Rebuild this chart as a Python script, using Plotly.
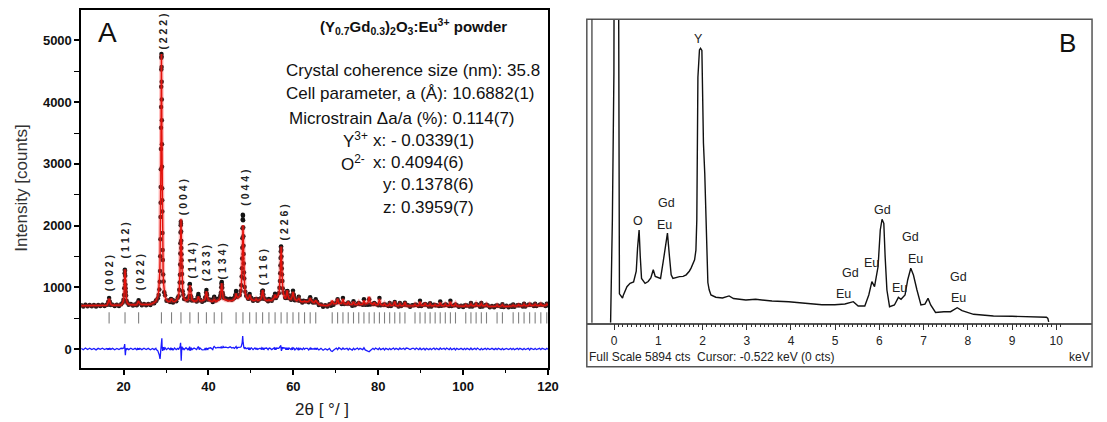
import plotly.graph_objects as go

W, H = 1107, 422
FONT = "Liberation Sans, Arial, sans-serif"

# ---------------- Panel A : XRD Rietveld data ----------------
two_theta = [
    10.0, 10.5, 11.0, 11.5, 12.0, 12.5, 13.0, 13.5, 14.0, 14.5, 15.0, 15.5, 16.0,
    16.18, 16.38, 16.48, 16.58, 16.68, 16.78, 16.98,
    17.4, 17.9, 18.4, 18.9, 19.4,
    19.78, 19.98, 20.09, 20.16, 20.21, 20.25, 20.29, 20.33, 20.37, 20.41, 20.45, 20.50, 20.57, 20.68, 20.88,
    21.2, 21.7, 22.2, 22.7, 23.1,
    23.23, 23.43, 23.53, 23.63, 23.83,
    24.3, 24.8, 25.3, 25.8, 26.3, 26.8, 27.2, 27.6,
    27.71, 28.06, 28.26, 28.41, 28.51, 28.58, 28.63, 28.67, 28.71, 28.73, 28.75, 28.77, 28.79, 28.81, 28.83, 28.85, 28.87, 28.89, 28.91,
    28.93, 28.95, 28.97, 28.99, 29.01, 29.03, 29.05, 29.07, 29.09, 29.11, 29.15, 29.19, 29.24, 29.31, 29.41, 29.56, 29.76, 30.11,
    30.5, 30.94, 31.14, 31.29, 31.44, 31.64, 32.0, 32.4,
    32.76, 32.96, 33.11, 33.21, 33.27, 33.32, 33.36, 33.39, 33.42, 33.45, 33.48, 33.51,
    33.54, 33.57, 33.60, 33.63, 33.66, 33.70, 33.75, 33.81, 33.91, 34.06, 34.26,
    34.7, 35.11, 35.29, 35.41, 35.49, 35.55, 35.61, 35.67, 35.73, 35.81, 35.93, 36.11,
    36.6, 37.21, 37.41, 37.51, 37.61, 37.71, 37.81, 38.01, 38.5,
    39.06, 39.23, 39.35, 39.43, 39.51, 39.59, 39.67, 39.79, 39.96,
    40.5, 41.0, 41.2, 41.35, 41.5, 41.7, 42.2,
    42.62, 42.8, 42.92, 43.0, 43.06, 43.12, 43.18, 43.24, 43.32, 43.44, 43.62,
    44.1, 44.6, 45.1, 45.5, 45.8,
    46.1, 46.3, 46.4, 46.5, 46.6, 46.7, 46.9,
    47.37, 47.57, 47.72, 47.82, 47.88, 47.93, 47.97, 48.00, 48.03, 48.06, 48.09, 48.12,
    48.15, 48.18, 48.21, 48.24, 48.27, 48.31, 48.36, 48.42, 48.52, 48.67, 48.87,
    49.3, 49.5, 49.6, 49.7, 49.8, 49.9, 50.1,
    50.5, 50.89, 51.09, 51.24, 51.39, 51.59, 52.0,
    52.3, 52.47, 52.59, 52.67, 52.75, 52.83, 52.91, 53.03, 53.2,
    53.7, 54.04, 54.24, 54.44, 54.9,
    55.29, 55.49, 55.59, 55.69, 55.79, 55.89, 56.09,
    56.56, 56.73, 56.83, 56.90, 56.95, 56.99, 57.03, 57.07, 57.11,
    57.15, 57.19, 57.23, 57.27, 57.32, 57.39, 57.49, 57.66,
    58.07, 58.24, 58.36, 58.44, 58.52, 58.60, 58.68, 58.80, 58.97,
    59.46, 59.63, 59.75, 59.83, 59.91, 59.99, 60.07, 60.19, 60.36,
    60.8, 61.12, 61.27, 61.42, 61.7,
    62.1, 62.38, 62.63, 62.88,
    63.3, 63.61, 63.81, 63.96, 64.11, 64.31, 64.62,
    64.92, 65.12, 65.27, 65.42, 65.62, 66.0, 66.5, 67.0, 67.5, 68.0, 68.5,
    68.85, 69.15, 69.45, 70.12, 70.42, 70.72, 71.38, 71.68, 71.98,
    72.63, 72.93, 73.23, 73.87, 74.17, 74.47, 75.10, 75.40, 75.70,
    76.33, 76.63, 76.93, 77.55, 77.85, 78.15, 78.76, 79.06, 79.36,
    79.98, 80.28, 80.58, 81.18, 81.48, 81.78, 82.39, 82.69, 82.99,
    83.59, 83.89, 84.19, 84.79, 85.09, 85.39, 85.99, 86.29, 86.59,
    87.0, 87.5, 88.0,
    88.36, 88.66, 88.96, 89.54, 89.84, 90.14, 90.74, 91.04, 91.34,
    91.92, 92.22, 92.52, 93.11, 93.41, 93.71, 94.30, 94.60, 94.90,
    95.50, 95.80, 96.10, 96.70, 97.00, 97.30, 97.90, 98.20, 98.50,
    99.0, 99.5, 100.0,
    100.32, 100.62, 100.92, 101.54, 101.84, 102.14, 102.76, 103.06, 103.36,
    103.99, 104.29, 104.59, 105.21, 105.51, 105.81,
    106.3, 106.8, 107.3,
    107.70, 108.00, 108.30, 108.96, 109.26, 109.56,
    110.2, 110.7, 111.2,
    111.49, 111.79, 112.09, 112.77, 113.07, 113.37, 114.06, 114.36, 114.66,
    115.37, 115.67, 115.97, 116.67, 116.97, 117.27, 118.01, 118.31, 118.61,
    119.41, 119.71, 120.0,
]

calc_counts = [
    700, 700, 701, 701, 702, 702, 703, 703, 704, 704, 705, 705, 708,
    720, 750, 781, 815, 781, 750, 720,
    708, 707, 707, 708, 712,
    745, 790, 857, 944, 1044, 1147, 1246, 1290, 1246, 1147, 1044, 944, 857, 790, 745,
    725, 716, 713, 713, 720,
    738, 757, 777, 757, 735,
    720, 718, 718, 720, 724, 735, 750, 775,
    792, 852, 935, 1064, 1229, 1423, 1633, 1868, 2188, 2390, 2625, 2894, 3200, 3534, 3883, 4221, 4511, 4709, 4780,
    4709, 4511, 4221, 3883, 3534, 3200, 2894, 2625, 2390, 2188, 1868, 1633, 1423, 1229, 1064, 935, 852, 792,
    770, 772, 790, 815, 790, 772, 768, 785,
    819, 865, 946, 1059, 1175, 1320, 1478, 1624, 1786, 1944, 2064, 2110,
    2064, 1944, 1786, 1624, 1478, 1320, 1175, 1059, 946, 865, 819,
    785, 795, 823, 873, 940, 1002, 1035, 1002, 940, 873, 823, 795,
    775, 781, 801, 825, 850, 825, 801, 781, 780,
    797, 818, 858, 904, 935, 904, 858, 818, 797,
    780, 772, 785, 805, 785, 772, 785,
    807, 837, 891, 962, 1030, 1065, 1030, 962, 891, 837, 807,
    790, 782, 780, 783, 790,
    815, 833, 866, 900, 866, 838, 830,
    856, 908, 995, 1113, 1229, 1367, 1510, 1635, 1766, 1888, 1977, 2010,
    1977, 1888, 1766, 1635, 1510, 1367, 1229, 1113, 995, 908, 856,
    803, 826, 852, 880, 852, 826, 803,
    790, 786, 797, 815, 797, 786, 795,
    808, 831, 872, 922, 955, 922, 872, 831, 808,
    785, 785, 800, 785, 790,
    811, 832, 855, 880, 855, 835, 840,
    892, 972, 1071, 1187, 1303, 1415, 1530, 1624, 1660,
    1624, 1530, 1415, 1303, 1187, 1071, 972, 892,
    817, 837, 875, 920, 950, 920, 875, 837, 817,
    810, 827, 860, 899, 925, 899, 860, 827, 805,
    785, 800, 825, 800, 772,
    765, 765, 780, 765,
    765, 772, 795, 825, 795, 772, 760,
    752, 768, 790, 768, 752, 728, 712, 705, 702, 705, 715,
    730, 785, 735, 740, 815, 740, 740, 810, 735,
    725, 770, 725, 720, 765, 720, 720, 755, 720,
    725, 785, 730, 745, 850, 745, 720, 755, 715,
    720, 810, 720, 705, 735, 705, 705, 735, 705,
    710, 770, 705, 700, 730, 700, 705, 760, 700,
    698, 695, 698,
    700, 725, 700, 705, 765, 705, 705, 745, 705,
    700, 730, 700, 700, 720, 700, 705, 755, 705,
    700, 730, 700, 705, 765, 705, 700, 735, 700,
    695, 690, 692,
    693, 715, 695, 700, 730, 700, 700, 735, 700,
    700, 735, 700, 700, 725, 695,
    688, 685, 688,
    690, 715, 690, 695, 715, 690,
    690, 688, 692,
    695, 710, 695, 700, 720, 700, 700, 725, 700,
    705, 730, 705, 705, 725, 705, 705, 730, 705,
    705, 725, 712,
]

diff_counts = [
    10, -12, 15, -8, 12, -10, 8, -14, 10, -6, 12, -10, 8,
    -5, 10, -15, 12, -10, 8, -6,
    10, -12, 8, -10, 12,
    8, 10, 20, 40, 60, 80, 40, -20, -60, -100, -60, -20, 10, -8, 6,
    -10, 12, -8, 10, -12,
    8, -10, 12, -8, 10,
    -10, 12, -8, 10, -12, 8, -10, 12,
    -10, -30, -60, -100, -140, -160, -130, -90, -50, -20, 0, 20, 40, 50, 40, 30, 20, 10, 0,
    30, 60, 110, 160, 175, 120, 60, -20, 20, 40, 10, -30, 20, -20, 30, -15, 20, -10,
    15, -10, 20, -15, 10, -20, 15, -10,
    10, -10, 15, 20, 30, 50, 70, 90, 100, 60, 0, -80,
    -160, -190, -150, -90, -40, 10, 40, 20, -10, 15, -10,
    20, -10, 15, -20, 30, 40, 20, -30, 10, -15, 20, -10,
    15, -10, 20, 30, 40, 20, -10, 15, -15,
    -10, 15, -20, 10, 20, -10, 15, -15, 10,
    20, -10, 30, 40, 30, 15, 25,
    20, 30, 20, 40, 30, 20, 10, 30, 20, 40, 25,
    30, 20, 35, 15, 25,
    10, 30, 20, 40, 20, 10, 25,
    20, 30, 40, 60, 80, 100, 130, 160, 190, 210, 200, 150,
    110, 80, 60, 40, 30, 20, 10, 30, 10, 20, 5,
    15, -10, 20, 10, -15, 10, 20,
    -10, 15, 10, -10, 15, -5, 10,
    10, -10, 20, 15, -10, 20, 10, -15, 10,
    15, -10, 10, 15, -10,
    10, 20, -10, 15, 20, -10, 15,
    10, 20, 30, 40, 50, 60, 50, 30, 0,
    -20, -30, -20, 0, 20, 30, 10, 20,
    15, -10, 20, 10, -15, 20, 10, -10, 15,
    -10, 15, 10, -15, 20, -10, 15, 10, -15,
    15, -10, 20, -15, 10,
    -10, 15, -5, 10,
    10, -15, 10, 15, -10, 10, -5,
    10, -10, 15, -10, 10, -15, 10, -20, 5, -15, 10,
    -30, -40, -20, 15, -10, 20, -10, 15, -5,
    10, -15, 10, -20, 10, -10, 15, -10, 10,
    -10, 20, -15, -30, -45, -25, 10, -10, 15,
    -10, 15, -10, 10, -15, 10, -10, 10, -10,
    15, -10, 10, -10, 15, -5, 10, -10, 15,
    10, -10, 10,
    10, -10, 15, -10, 15, -10, 10, -15, 10,
    -10, 10, -10, 15, -10, 10, -10, 15, -5,
    10, -10, 15, -10, 15, -10, 10, -15, 10,
    -10, 10, -10,
    10, -10, 10, -10, 15, -10, 10, -10, 15,
    -15, 10, -10, 10, -10, 10,
    -10, 10, -10,
    10, -10, 10, -10, 10, -10,
    10, -10, 10,
    -10, 10, -10, 10, -10, 10, -10, 10, -10,
    10, -15, 10, -10, 10, -10, 10, -10, 10,
    -10, 10, -5,
]

bragg_2theta = [
    16.58, 20.33, 23.53, 28.91, 31.29, 33.51, 35.61, 37.61, 39.51, 41.35, 43.12,
    46.50, 48.12, 49.70, 51.24, 52.75, 54.24, 55.69, 57.11, 58.52, 59.91, 61.27,
    62.63, 63.96, 65.27, 69.15, 70.42, 71.68, 72.93, 74.17, 75.40, 76.63, 77.85,
    79.06, 80.28, 81.48, 82.69, 83.89, 85.09, 86.29, 88.66, 89.84, 91.04, 92.22,
    93.41, 94.60, 95.80, 97.00, 98.20, 100.62, 101.84, 103.06, 104.29, 105.51,
    108.00, 109.26, 111.79, 113.07, 114.36, 115.67, 116.97, 118.31, 119.71,
]

hkl_labels = ["( 0 0 2 )", "( 1 1 2 )", "( 0 2 2 )", "( 2 2 2 )", "( 0 0 4 )", "( 1 1 4 )",
              "( 2 3 3 )", "( 1 3 4 )", "( 0 4 4 )", "( 1 1 6 )", "( 2 2 6 )"]
hkl_label_x = [16.53, 20.43, 23.9, 29.2, 33.86, 36.2, 39.46, 43.1, 48.4, 52.7, 57.75]
hkl_label_y = [1226, 1765, 1247, 5139, 2467, 1441, 1393, 1414, 2616, 1333, 2049]

# ---------------- Panel B : EDS spectrum ----------------
eds_kev = [-0.08, -0.04, -0.005, 0.0, 0.10, 0.12, 0.19, 0.21, 0.29, 0.36, 0.44, 0.50, 0.53,
           0.565, 0.59, 0.62, 0.70, 0.77, 0.83, 0.885, 0.93, 0.96, 1.05, 1.11, 1.16, 1.206,
           1.25, 1.29, 1.33, 1.40, 1.48, 1.56, 1.63, 1.70, 1.74, 1.82, 1.85, 1.87, 1.88,
           1.895, 1.93, 1.954, 1.985, 1.995, 2.02, 2.05, 2.075, 2.09, 2.12, 2.15, 2.19, 2.30,
           2.45, 2.60, 2.70, 2.98, 3.20, 3.57, 3.95, 4.32, 4.70, 4.99, 5.22, 5.41, 5.52, 5.67,
           5.76, 5.83, 5.89, 5.97, 6.02, 6.06, 6.10, 6.13, 6.17, 6.23, 6.34, 6.43, 6.49, 6.58,
           6.64, 6.71, 6.77, 6.85, 6.94, 7.03, 7.10, 7.16, 7.27, 7.46, 7.61, 7.76, 7.87, 8.13,
           8.58, 9.00, 9.33, 9.78, 9.81, 9.83]
eds_counts = [0, 1990, 4840, 7000, 7000, 560, 480, 540, 700, 765, 790, 1000, 1450,
              1800, 1300, 860, 765, 800, 870, 1030, 900, 890, 860, 1185, 1500, 1740,
              1300, 930, 860, 880, 895, 900, 930, 1000, 1060, 1220, 1410, 1990, 3420,
              4770, 5300, 5330, 5290, 4560, 3490, 2900, 2200, 1350, 780, 640, 540, 495,
              480, 520, 470, 441, 455, 421, 408, 377, 350, 350, 363, 408, 324, 324,
              538, 797, 700, 1088, 1801, 2009, 1931, 1282, 635, 311, 344, 493, 455, 538,
              830, 1057, 927, 635, 344, 360, 474, 344, 200, 214, 214, 291, 233, 163,
              130, 125, 117, 105, 85, 15]
eds_full_scale = 5894
eds_cursor_kev = -0.522
eds_labels = ["Y", "O", "Gd", "Eu", "Gd", "Eu", "Gd", "Eu", "Gd", "Eu", "Eu", "Gd", "Eu"]
eds_label_px = [(706, 39), (644.3, 221), (673.3, 203), (670.7, 225), (891, 210), (880, 263),
                (859.3, 273), (851.7, 294), (920, 237), (925, 259), (908.3, 288),
                (967.7, 277), (967.7, 298)]

n = min(len(two_theta), len(calc_counts), len(diff_counts))
two_theta, calc_counts, diff_counts = two_theta[:n], calc_counts[:n], diff_counts[:n]
observed_counts = [c + d for c, d in zip(calc_counts, diff_counts)]
bragg_level = 505


def px(x):
    return x / W


def py(y):
    return 1 - y / H


fig = go.Figure()

fig.add_trace(go.Scatter(x=two_theta, y=observed_counts, mode="markers",
                         marker=dict(size=4.5, color="#141414"), xaxis="x", yaxis="y"))
fig.add_trace(go.Scatter(x=two_theta, y=calc_counts, mode="lines",
                         line=dict(color="rgba(255,60,60,0.35)", width=4), xaxis="x", yaxis="y"))
fig.add_trace(go.Scatter(x=two_theta, y=calc_counts, mode="lines",
                         line=dict(color="#e3120b", width=1.4), xaxis="x", yaxis="y"))
fig.add_trace(go.Scatter(x=bragg_2theta, y=[bragg_level] * len(bragg_2theta), mode="markers",
                         marker=dict(symbol="line-ns", size=8, color="#808080",
                                     line=dict(width=1.1, color="#808080")),
                         xaxis="x", yaxis="y"))
fig.add_trace(go.Scatter(x=two_theta, y=diff_counts, mode="lines",
                         line=dict(color="#1a1aff", width=1.3), xaxis="x", yaxis="y"))

fig.add_trace(go.Scatter(x=eds_kev, y=eds_counts, mode="lines",
                         line=dict(color="#111111", width=1.4), xaxis="x2", yaxis="y2"))

bold13 = dict(family=FONT, size=13, color="#111111", weight="bold")

fig.update_layout(
    width=W, height=H, autosize=False,
    margin=dict(l=0, r=0, t=0, b=0),
    paper_bgcolor="white", plot_bgcolor="white", showlegend=False,
    xaxis=dict(domain=[px(82), px(553.5)], range=[10, 120], anchor="y",
               tickvals=[20, 40, 60, 80, 100, 120], ticks="outside", ticklen=6,
               tickwidth=1.5, tickcolor="black", showline=True, linecolor="black",
               linewidth=1.5, mirror=True, showgrid=False, zeroline=False, tickfont=bold13,
               minor=dict(tickvals=[30, 50, 70, 90, 110], ticks="outside", ticklen=4,
                          tickwidth=1.2, tickcolor="black", showgrid=False)),
    yaxis=dict(domain=[py(367.5), py(10)], range=[-300, 5494], anchor="x",
               tickvals=[0, 1000, 2000, 3000, 4000, 5000], ticks="outside", ticklen=5,
               tickwidth=1.5, tickcolor="black", showline=True, linecolor="black",
               linewidth=1.5, mirror=True, showgrid=False, zeroline=False, tickfont=bold13,
               minor=dict(tickvals=[500, 1500, 2500, 3500, 4500], ticks="outside", ticklen=5,
                          tickwidth=1.2, tickcolor="black", showgrid=False)),
    xaxis2=dict(domain=[px(592.7), px(1103)], range=[-0.618, 10.81], anchor="y2",
                tickvals=list(range(0, 11)), ticks="outside", ticklen=6, tickwidth=1,
                tickcolor="#333333", showline=True, linecolor="#555555", linewidth=1.5,
                mirror=False, showgrid=False, zeroline=False,
                tickfont=dict(family=FONT, size=12, color="#222222"),
                minor=dict(tickmode="array", tickvals=[i / 10 for i in range(0, 102)],
                           ticks="outside", ticklen=3, tickwidth=1, tickcolor="#333333",
                           showgrid=False)),
    yaxis2=dict(domain=[py(322.7), py(19.3)], range=[0, eds_full_scale], anchor="x2",
                visible=False),
)

shapes = [
    dict(type="rect", xref="paper", yref="paper", x0=px(592.7), x1=px(1103),
         y0=py(366.7), y1=py(19.3), line=dict(color="#555555", width=1.5)),
    dict(type="line", xref="x2", yref="y2 domain", x0=eds_cursor_kev + 0.02,
         x1=eds_cursor_kev + 0.02, y0=0, y1=1, line=dict(color="#333333", width=1.2)),
]
fig.update_layout(shapes=shapes)

ann = []


def add_text(text, x, y, size, xanchor="center", color="#111111", bold=False, angle=0,
             xref="paper", yref="paper"):
    f = dict(family=FONT, size=size, color=color)
    if bold:
        f["weight"] = "bold"
    ann.append(dict(text=text, x=x, y=y, xref=xref, yref=yref, showarrow=False,
                    xanchor=xanchor, yanchor="middle", font=f, textangle=angle))


# Panel A texts
add_text("A", px(109), py(32), 28)
add_text("Intensity [counts]", px(22), py(188), 17, color="#333333", angle=-90)
add_text("2θ [ °/ ]", px(325), py(409), 17, color="#222222")
add_text("(Y<sub>0.7</sub>Gd<sub>0.3</sub>)<sub>2</sub>O<sub>3</sub>:Eu<sup>3+</sup> powder",
         px(418), py(27), 15, bold=True)
add_text("Crystal coherence size (nm): 35.8", px(287), py(70), 17, xanchor="left")
add_text("Cell parameter, a (Å): 10.6882(1)", px(287), py(94), 17, xanchor="left")
add_text("Microstrain Δa/a (%): 0.114(7)", px(290), py(118), 17, xanchor="left")
add_text("Y<sup>3+</sup>", px(344), py(140), 17, xanchor="left")
add_text("x: - 0.0339(1)", px(375), py(140), 17, xanchor="left")
add_text("O<sup>2-</sup>", px(342), py(163), 17, xanchor="left")
add_text("x: 0.4094(6)", px(375), py(163), 17, xanchor="left")
add_text("y: 0.1378(6)", px(385), py(185), 17, xanchor="left")
add_text("z: 0.3959(7)", px(385), py(207), 17, xanchor="left")

for lab, lx, ly in zip(hkl_labels, hkl_label_x, hkl_label_y):
    add_text(lab, lx, ly, 10.5, color="#222222", bold=True, angle=-90, xref="x", yref="y")

# Panel B texts
add_text("B", px(1078), py(43), 26)
for lab, (lx, ly) in zip(eds_labels, eds_label_px):
    add_text(lab, px(lx), py(ly), 12.5, color="#222222")
add_text("Full Scale 5894 cts  Cursor: -0.522 keV (0 cts)", px(593), py(356.7), 12,
         xanchor="left", color="#222222")
add_text("keV", px(1102.5), py(356.7), 12, xanchor="right", color="#222222")

fig.update_layout(annotations=ann)

page_fix = (
    "document.documentElement.style.margin='0px';"
    "document.documentElement.style.overflow='hidden';"
    "document.body.style.margin='0px';"
    "document.body.style.padding='0px';"
    "document.body.style.overflow='hidden';"
)
fig.write_html("out.html", config={"displayModeBar": False}, post_script=page_fix)
